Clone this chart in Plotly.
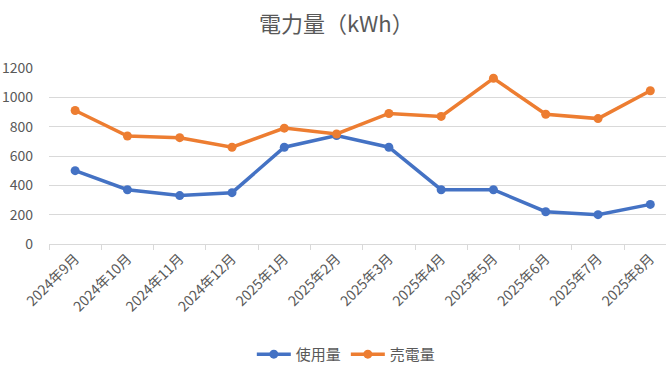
import plotly.graph_objects as go

categories = ["2024年9月", "2024年10月", "2024年11月", "2024年12月", "2025年1月", "2025年2月",
              "2025年3月", "2025年4月", "2025年5月", "2025年6月", "2025年7月", "2025年8月"]
usage = [500, 370, 330, 350, 660, 740, 660, 370, 370, 220, 200, 270]
sold = [910, 736, 725, 660, 790, 750, 890, 870, 1130, 885, 855, 1045]
y_ticks = [0, 200, 400, 600, 800, 1000, 1200]

FONT = "Noto Sans CJK JP, sans-serif"
GRAY = "#595959"

fig = go.Figure()
fig.add_trace(go.Scatter(x=categories, y=usage, name="使用量", mode="lines+markers",
                         line=dict(color="#4472C4", width=3.5), marker=dict(size=9, color="#4472C4")))
fig.add_trace(go.Scatter(x=categories, y=sold, name="売電量", mode="lines+markers",
                         line=dict(color="#ED7D31", width=3.5), marker=dict(size=9, color="#ED7D31")))

fig.update_layout(
    width=666, height=377,
    margin=dict(l=49, r=0, t=68, b=133, autoexpand=False),
    paper_bgcolor="white", plot_bgcolor="white",
    font=dict(family=FONT, color=GRAY, size=14),
    title=dict(text="電力量（kWh）", x=0.505, xref="container", xanchor="center", y=0.935, yanchor="middle",
               font=dict(size=22, color=GRAY, family=FONT)),
    legend=dict(orientation="h", x=0.52, xanchor="center", xref="container", y=0.06, yanchor="middle",
                yref="container", font=dict(size=15, color=GRAY), itemwidth=34),
    showlegend=True,
)
fig.update_xaxes(type="category", range=[-0.5, 11.3], tickangle=-45, showgrid=False, automargin=False,
                 showline=True, linecolor="#D9D9D9", linewidth=1,
                 ticks="outside", tickson="boundaries", ticklen=5, tickcolor="#D9D9D9",
                 tickfont=dict(size=14, color=GRAY))
fig.update_yaxes(range=[0, 1200], tickvals=y_ticks, showgrid=True, gridcolor="#D9D9D9", gridwidth=1,
                 zeroline=False, showline=False, ticklabelstandoff=15, automargin=False,
                 tickfont=dict(size=14, color=GRAY))

fig.write_html("out.html", config={"displayModeBar": False},
               post_script="document.body.style.margin='0';document.body.style.overflow='hidden';")
